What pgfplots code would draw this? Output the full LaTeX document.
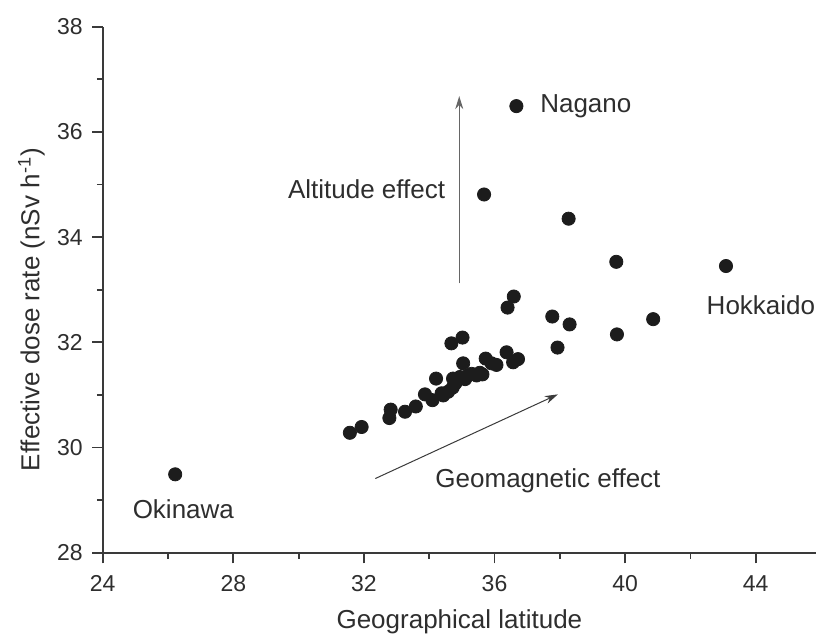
\documentclass[border=0pt]{standalone}
\usepackage{fontspec}
\setmainfont{Liberation Sans}
\usepackage{pgfplots}
\pgfplotsset{compat=1.18}
\usetikzlibrary{arrows.meta}
\definecolor{txt}{HTML}{2E2E2E}
\definecolor{dot}{HTML}{1C1C1C}
\definecolor{axc}{HTML}{3A3A3A}
\begin{document}
\begin{tikzpicture}
\useasboundingbox (0,0) rectangle (409pt,318.5pt);
\begin{axis}[
  at={(51.35pt,42.15pt)}, anchor=south west,
  scale only axis, width=356.7pt, height=263pt,
  xmin=24, xmax=45.85, ymin=28, ymax=38,
  axis x line=bottom, axis y line=left,
  axis line style={-, axc, line width=0.9pt},
  every tick/.style={axc, line width=0.9pt},
  tick align=outside,
  major tick length=5.3pt, minor tick length=2.9pt,
  xtick={24,28,...,44}, ytick={28,30,...,38},
  minor x tick num=1, minor y tick num=1,
  /pgf/number format/assume math mode=true,
  tick label style={font=\fontsize{11.5}{13}\selectfont, text=txt},
  xticklabel style={anchor=center, inner sep=0pt, yshift=-10pt},
  yticklabel style={anchor=east, inner sep=0pt, xshift=-4.5pt},
  label style={font=\fontsize{13}{15}\selectfont, text=txt},
  xlabel={Geographical latitude},
  xlabel style={at={(axis description cs:0.5,0)}, anchor=base, yshift=-38pt},
  ylabel={Effective dose rate (nSv h\textsuperscript{-1})},
  ylabel style={at={(axis description cs:0,0.462)}, anchor=center, yshift=35.6pt},
  clip=false,
]
\addplot[only marks, mark=*, mark size=3.3pt, mark options={draw=dot, fill=dot}] coordinates {
(26.22,29.49)
(31.57,30.28) (31.93,30.39) (32.78,30.56) (32.82,30.72) (33.26,30.68)
(33.59,30.78) (33.87,31.01) (34.10,30.90) (34.21,31.31) (34.38,31.03)
(34.43,30.99) (34.58,31.06) (34.72,31.14) (34.73,31.31) (34.80,31.22)
(34.94,31.34) (35.10,31.30) (35.19,31.37) (35.30,31.40) (35.45,31.37)
(35.55,31.42) (35.63,31.39) (34.68,31.98) (35.02,32.09) (35.04,31.60)
(35.73,31.69) (35.91,31.60) (36.06,31.57) (36.37,31.81) (36.57,31.62)
(36.72,31.68) (36.40,32.66) (36.59,32.87) (37.77,32.49) (38.30,32.34)
(37.93,31.90) (39.75,32.15) (40.86,32.44) (39.73,33.53) (43.09,33.45)
(38.27,34.35) (35.68,34.81) (36.67,36.49)
};
\draw[-{Stealth[length=6.5pt, width=4pt]}, color=gray!80!black, line width=0.5pt] (axis cs:34.92,33.12) -- (axis cs:34.92,36.68);
\draw[-{Stealth[length=6.5pt, width=4pt]}, color=axc, line width=0.5pt] (axis cs:32.35,29.41) -- (axis cs:37.94,31.01);
\begin{scope}[every node/.style={font=\fontsize{13}{15}\selectfont, text=txt, inner sep=0pt}]
\node[anchor=west] at (axis cs:37.39,36.49) {Nagano};
\node[anchor=east] at (axis cs:34.50,34.91) {Altitude effect};
\node[anchor=west] at (axis cs:34.18,29.36) {Geomagnetic effect};
\node[anchor=center] at (axis cs:26.47,28.83) {Okinawa};
\node[anchor=center] at (axis cs:44.16,32.71) {Hokkaido};
\end{scope}
\end{axis}
\end{tikzpicture}
\end{document}
